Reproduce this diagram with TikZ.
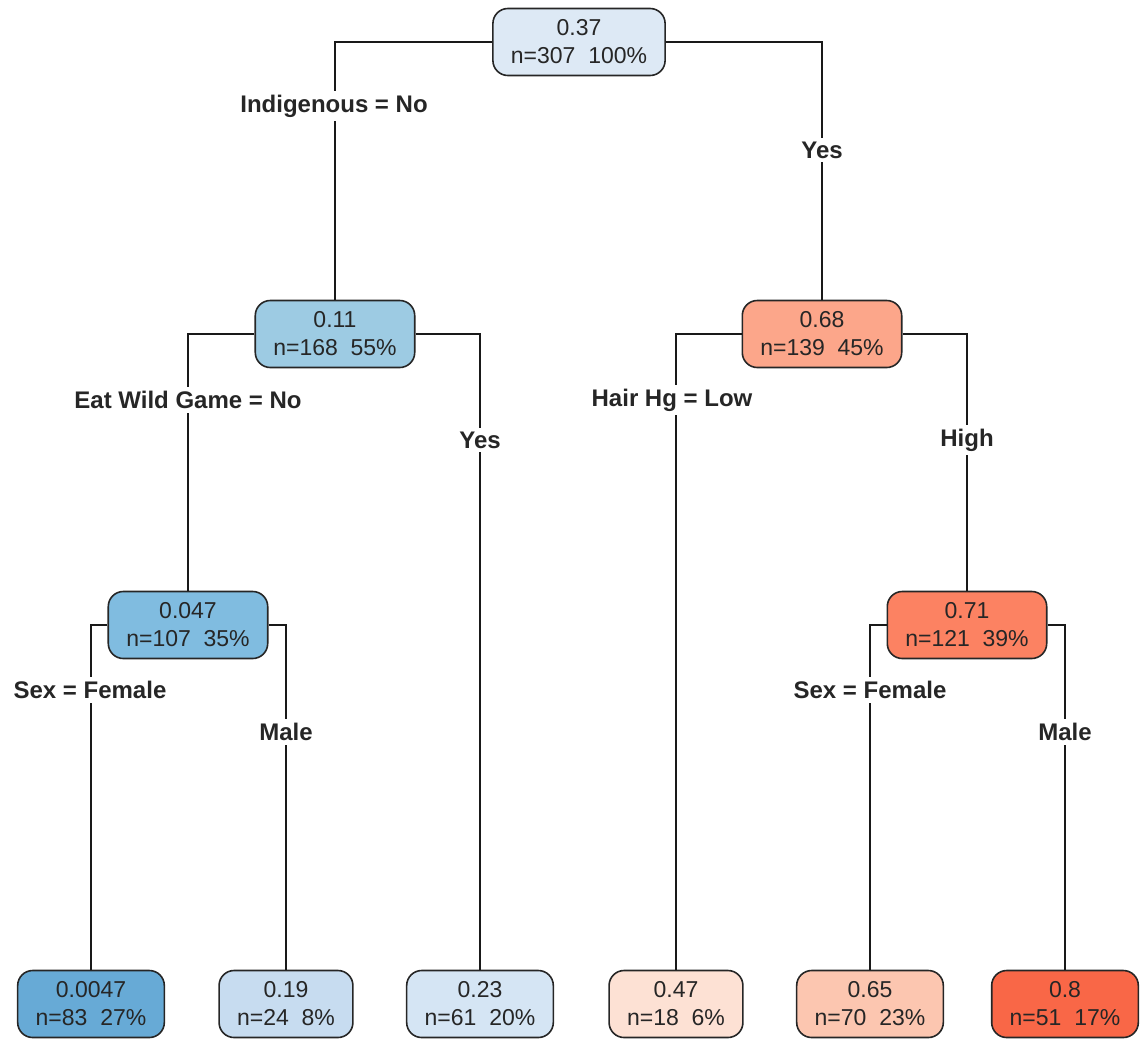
\documentclass[tikz,border=0pt]{standalone}
\usepackage{fontspec}
\setmainfont{Liberation Sans}
\usetikzlibrary{positioning}
\definecolor{bluetop}{HTML}{DDE9F5}
\definecolor{bluenoind}{HTML}{9DCBE3}
\definecolor{bluenogame}{HTML}{80BCE0}
\definecolor{blueleafA}{HTML}{67AAD6}
\definecolor{blueleafB}{HTML}{C7DCF0}
\definecolor{blueleafC}{HTML}{D5E5F4}
\definecolor{redleafA}{HTML}{FDE1D4}
\definecolor{redleafB}{HTML}{FCC6B0}
\definecolor{redind}{HTML}{FCA68A}
\definecolor{redhigh}{HTML}{FC8262}
\definecolor{redleafC}{HTML}{F96747}

\begin{document}
\begin{tikzpicture}[x=0.5pt, y=-0.5pt,
    box/.style={rectangle, draw=black!85, rounded corners=7.5pt, minimum height=33.5pt, inner xsep=9pt, inner ysep=2pt, align=center, font=\fontsize{11.5}{14}\selectfont, text=black!85, line width=0.8pt},
    split/.style={fill=white, inner sep=2pt, font=\fontsize{12}{14}\selectfont\bfseries, text=black!85},
    edge/.style={line width=0.95pt, black!90},
  ]
    \useasboundingbox (0,0) rectangle (1141,1040);

    % inner nodes
    \node[box, fill=bluetop] (top) at (579,42) {0.37\\n=307~~100\%};
    \node[box, fill=bluenoind] (noind) at (335,334) {0.11\\n=168~~55\%};
    \node[box, fill=redind] (yesind) at (822,334) {0.68\\n=139~~45\%};
    \node[box, fill=bluenogame] (nogame) at (188,625) {0.047\\n=107~~35\%};
    \node[box, fill=redhigh] (highhg) at (967,625) {0.71\\n=121~~39\%};

    % leaves
    \node[box, fill=blueleafA] (leafF1) at (91,1004) {0.0047\\n=83~~27\%};
    \node[box, fill=blueleafB] (leafM1) at (286,1004) {0.19\\n=24~~8\%};
    \node[box, fill=blueleafC] (leafgame) at (480,1004) {0.23\\n=61~~20\%};
    \node[box, fill=redleafA] (leafhglow) at (676,1004) {0.47\\n=18~~6\%};
    \node[box, fill=redleafB] (leafF2) at (870,1004) {0.65\\n=70~~23\%};
    \node[box, fill=redleafC] (leafM2) at (1065,1004) {0.8\\n=51~~17\%};

    \draw[edge] (top.west) -| (noind.north);
    \draw[edge] (top.east) -| (yesind.north);
    \draw[edge] (noind.west) -| (nogame.north);
    \draw[edge] (noind.east) -| (leafgame.north);
    \draw[edge] (yesind.west) -| (leafhglow.north);
    \draw[edge] (yesind.east) -| (highhg.north);
    \draw[edge] (nogame.west) -| (leafF1.north);
    \draw[edge] (nogame.east) -| (leafM1.north);
    \draw[edge] (highhg.west) -| (leafF2.north);
    \draw[edge] (highhg.east) -| (leafM2.north);

    % split labels
    \node[split] (sind) at (334,106) {Indigenous = No};
    \node[split] (sindy) at (822,150) {Yes};
    \node[split] (sgame) at (188,400) {Eat Wild Game = No};
    \node[split] (sgamey) at (480,440) {Yes};
    \node[split] (shg) at (672,400) {Hair Hg = Low};
    \node[split] (shgy) at (967,440) {High};
    \node[split] (ssexA) at (90,690) {Sex = Female};
    \node[split] (smaleA) at (286,732) {Male};
    \node[split] (ssexB) at (870,690) {Sex = Female};
    \node[split] (smaleB) at (1065,732) {Male};
\end{tikzpicture}
\end{document}
